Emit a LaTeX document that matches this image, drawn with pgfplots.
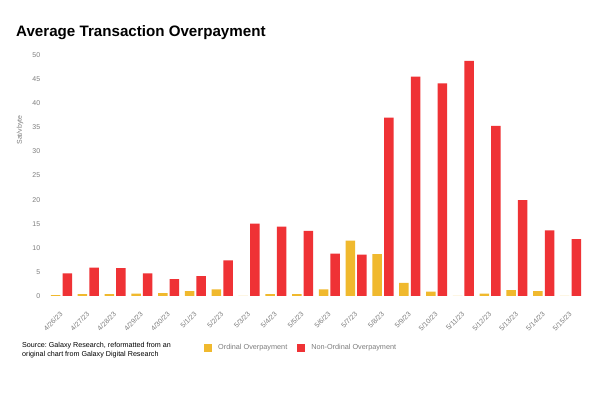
\documentclass[border=0pt]{standalone}
\usepackage{fontspec}
\setmainfont{Liberation Sans}
\usepackage{pgfplots}
\pgfplotsset{compat=1.18}
\definecolor{ordy}{RGB}{240,185,46}
\definecolor{nonr}{RGB}{239,50,53}
\definecolor{tgray}{RGB}{125,125,125}
\frenchspacing
\begin{document}
\begin{tikzpicture}
\path[use as bounding box, fill=white] (0,0) rectangle (600bp,393bp);
\node[anchor=base west, inner sep=0pt, font=\bfseries\fontsize{15.2}{17}\selectfont] at (16bp,356bp) {Average Transaction Overpayment};
\begin{axis}[
  at={(45.4bp,97bp)}, anchor=south west,
  scale only axis, width=541.2bp, height=241bp,
  xmin=-0.6, xmax=19.6, ymin=0, ymax=50,
  axis line style={draw=none}, tick style={draw=none},
  ytick={0,5,...,50},
  xtick={0,...,19},
  xticklabels={4/26/23,4/27/23,4/28/23,4/29/23,4/30/23,5/1/23,5/2/23,5/3/23,5/4/23,5/5/23,5/6/23,5/7/23,5/8/23,5/9/23,5/10/23,5/11/23,5/12/23,5/13/23,5/14/23,5/15/23},
  /pgf/number format/assume math mode=true,
  tick label style={font=\fontsize{7}{8}\selectfont, text=tgray},
  yticklabel style={inner sep=0pt, xshift=-5bp},
  xticklabel style={yshift=-17bp, xshift=0bp, rotate=45, anchor=east, inner sep=0pt},
  bar width=9.5bp,
  legend columns=2,
  legend style={at={(0.293,-0.216)}, anchor=west, draw=none, fill=none, inner sep=0pt,
    font=\fontsize{7.3}{8}\selectfont, text=tgray,
    nodes={inner sep=0pt, inner xsep=6bp},
    /tikz/every even column/.append style={column sep=4bp}},
]
\addplot[ybar, bar shift=-5.8bp, fill=ordy, draw=none,
  legend image code/.code={\fill[ordy] (0bp,-4bp) rectangle (8bp,4bp);}]
  coordinates {(0,0.2) (1,0.4) (2,0.4) (3,0.5) (4,0.6) (5,1.0) (6,1.4) (7,0) (8,0.4) (9,0.4)
  (10,1.4) (11,11.5) (12,8.7) (13,2.7) (14,0.9) (15,0) (16,0.5) (17,1.2) (18,1.0) (19,0)};
\addlegendentry{Ordinal Overpayment}
\addplot[ybar, bar shift=5.8bp, fill=nonr, draw=none,
  legend image code/.code={\fill[nonr] (0bp,-4bp) rectangle (8bp,4bp);}]
  coordinates {(0,4.7) (1,5.9) (2,5.8) (3,4.7) (4,3.5) (5,4.1) (6,7.4) (7,15.0) (8,14.4) (9,13.5)
  (10,8.8) (11,8.6) (12,37.0) (13,45.5) (14,44.1) (15,48.8) (16,35.3) (17,19.9) (18,13.6) (19,11.8)};
\addlegendentry{Non-Ordinal Overpayment}
\end{axis}
\node[rotate=90, inner sep=0pt, font=\fontsize{7}{8}\selectfont, text=tgray] at (20bp,263bp) {Sat/vbyte};
\node[anchor=base west, inner sep=0pt, align=left, font=\fontsize{7.2}{8.5}\selectfont] at (22bp,37bp) {Source: Galaxy Research, reformatted from an\\original chart from Galaxy Digital Research};
\end{tikzpicture}
\end{document}
